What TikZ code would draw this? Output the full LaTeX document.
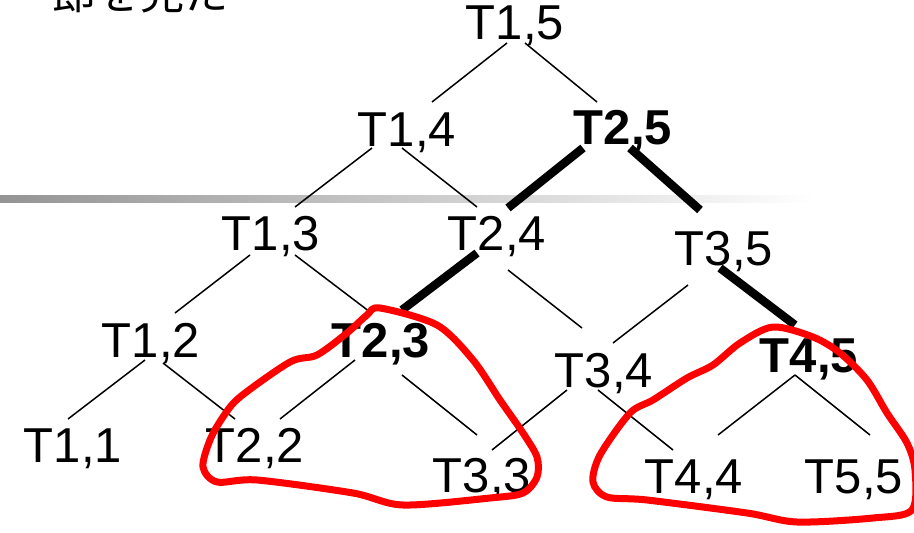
\documentclass[tikz,border=0pt]{standalone}
\usepackage{fontspec}
\setmainfont{Liberation Sans}
\newfontfamily\jpfont{Noto Sans CJK JP}
\begin{document}
\begin{tikzpicture}[x=1pt,y=-1pt,
  lbl/.style={anchor=base,inner sep=0pt,font=\fontsize{49}{55}\selectfont},
  blbl/.style={lbl,font=\fontsize{49}{55}\selectfont\bfseries},
  thin/.style={line width=1.5pt,black},
  thick/.style={line width=8.5pt,black},
  loop/.style={line width=7pt,red,line join=round}]
\useasboundingbox (0,0) rectangle (914,533);
\clip (0,0) rectangle (914,533);
\fill[white] (0,0) rectangle (914,533);
% gray rule
\shade[left color=black!42,right color=white] (0,195) rectangle (815,202);
% title fragment (cut off at the top edge, as in the reference)
\node[anchor=base west,inner sep=0pt,font=\jpfont\fontsize{44}{48}\selectfont] (title) at (52,9) {節を見た};
% nodes
\node[lbl]  (T15) at (515,39)  {T1,5};
\node[lbl]  (T14) at (407,146) {T1,4};
\node[blbl] (T25) at (623,144) {T2,5};
\node[lbl]  (T13) at (271,250) {T1,3};
\node[lbl]  (T24) at (497,250) {T2,4};
\node[lbl]  (T35) at (724,265) {T3,5};
\node[lbl]  (T12) at (151,357) {T1,2};
\node[blbl] (T23) at (381,357) {T2,3};
\node[lbl]  (T34) at (604,387) {T3,4};
\node[blbl] (T45) at (809,372) {T4,5};
\node[lbl]  (T11) at (73,462)  {T1,1};
\node[lbl]  (T22) at (255,462) {T2,2};
\node[lbl]  (T33) at (482,492) {T3,3};
\node[lbl]  (T44) at (694,493) {T4,4};
\node[lbl]  (T55) at (854,493) {T5,5};
% connectors
\newcommand\conn[5]{\draw[#1] ([shift={(#3)}]#2.base) -- ([shift={(#5)}]#4.base);}
\conn{thin}{T15}{-8,4}{T14}{25,-44}
\conn{thin}{T15}{10,4}{T25}{-26,-42}
\conn{thin}{T14}{-35,2}{T13}{24,-43}
\conn{thin}{T14}{-5,2}{T24}{-20,-43}
\conn{thick}{T25}{-40,4}{T24}{11,-42}
\conn{thick}{T25}{7,4}{T35}{-24,-55}
\conn{thin}{T13}{-21,5}{T12}{24,-44}
\conn{thin}{T13}{24,5}{T23}{-11,-45}
\conn{thick}{T24}{-20,3}{T23}{21,-47}
\conn{thin}{T24}{11,20}{T34}{-22,-59}
\conn{thin}{T35}{-36,20}{T34}{9,-44}
\conn{thick}{T35}{-4,3}{T45}{-14,-47}
\conn{thin}{T12}{-6,3}{T11}{-5,-43}
\conn{thin}{T12}{12,6}{T22}{-20,-43}
\conn{thin}{T23}{-26,3}{T22}{25,-43}
\conn{thin}{T23}{21,18}{T33}{-5,-57}
\conn{thin}{T34}{-37,3}{T33}{10,-42}
\conn{thin}{T34}{-6,3}{T44}{-21,-43}
\conn{thin}{T45}{-14,3}{T44}{24,-58}
\conn{thin}{T45}{-14,3}{T55}{16,-58}
% red loops
\draw[loop] plot[smooth cycle,tension=0.5] coordinates {
 (380,308) (437,325) (473,360) (500,400) (523,433) (537,457) (537,477)
 (523,493) (490,498) (403,505) (353,493) (257,480) (217,482) (203,467)
 (210,440) (223,417) (240,397) (290,362) (317,355) (347,333) (367,315)};
\draw[loop] plot[smooth cycle,tension=0.5] coordinates {
 (773,327) (813,337) (840,353) (867,380) (887,413) (907,443) (915,470)
 (912,510) (873,518) (797,522) (747,513) (647,500) (607,497) (593,482)
 (600,455) (630,413) (653,400) (687,378) (713,365) (740,343)};
\end{tikzpicture}
\end{document}
